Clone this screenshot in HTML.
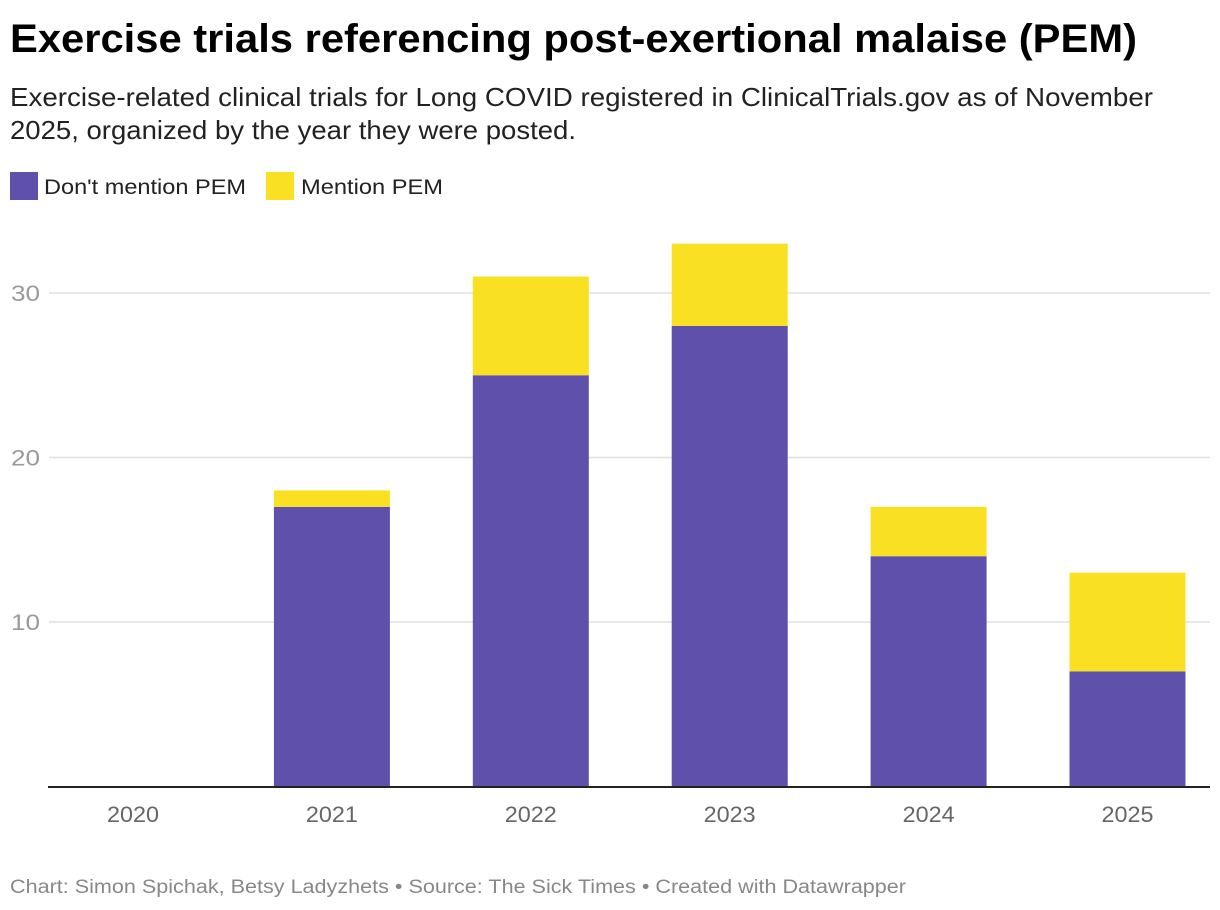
<!DOCTYPE html>
<html><head><meta charset="utf-8"><style>
body{margin:0;background:#fff;}
svg{display:block;font-family:"Liberation Sans",Arial,sans-serif;}
</style></head><body>
<svg id="chart" width="1220" height="910" viewBox="0 0 1220 910">
<text x="10" y="52" font-size="40" font-weight="bold" fill="#000" textLength="1127" lengthAdjust="spacingAndGlyphs">Exercise trials referencing post-exertional malaise (PEM)</text>
<text x="10" y="106" font-size="26" fill="#222" textLength="1143" lengthAdjust="spacingAndGlyphs">Exercise-related clinical trials for Long COVID registered in ClinicalTrials.gov as of November</text>
<text x="10" y="139" font-size="26" fill="#222" textLength="566" lengthAdjust="spacingAndGlyphs">2025, organized by the year they were posted.</text>
<g>
<rect x="10" y="172" width="28" height="28" fill="#5e50ab"/>
<text x="44" y="194" font-size="21" fill="#222" textLength="202" lengthAdjust="spacingAndGlyphs">Don't mention PEM</text>
<rect x="266" y="172" width="28" height="28" fill="#fae022"/>
<text x="301" y="194" font-size="21" fill="#222" textLength="142" lengthAdjust="spacingAndGlyphs">Mention PEM</text>
</g>
<g id="grid"></g>
<g id="bars"></g>
<line x1="48" y1="787" x2="1210" y2="787" stroke="#222" stroke-width="2"/>
<g id="xlabels"></g>
<text x="10" y="893" font-size="19" fill="#888" textLength="896" lengthAdjust="spacingAndGlyphs">Chart: Simon Spichak, Betsy Ladyzhets • Source: The Sick Times • Created with Datawrapper</text>
</svg>
<script>
const categories = ["2020","2021","2022","2023","2024","2025"];
const dontMention = [0,17,25,28,14,7];
const mention = [0,1,6,5,3,6];
const yTicks = [10,20,30];

const NS = "http://www.w3.org/2000/svg";
const y0 = 786.5, pxPerUnit = 16.45;
function yScale(v){ return y0 - v*pxPerUnit; }
function xCenter(i){ return 133 + i*198.9; }
const barW = 116;
function mk(tag, attrs, parent){
  const e = document.createElementNS(NS, tag);
  for (const k in attrs) e.setAttribute(k, attrs[k]);
  parent.appendChild(e); return e;
}
const grid = document.getElementById('grid');
yTicks.forEach(t => {
  const y = yScale(t);
  const l = mk('line', {x1:49, x2:1210, y1:y, y2:y, stroke:'#e0e0e0', 'stroke-width':1.5}, grid);
  
  
  const tx = mk('text', {x:11, y:y+8, 'font-size':22, fill:'#9a9a9a', textLength:29, lengthAdjust:'spacingAndGlyphs'}, grid);
  tx.textContent = t;
  
  
});
const bars = document.getElementById('bars');
const xl = document.getElementById('xlabels');
categories.forEach((c, i) => {
  const cx = xCenter(i);
  const a = dontMention[i], b = mention[i];
  if (a > 0) {
    const r = mk('rect', {x:cx-barW/2, y:yScale(a), width:barW, height:yScale(0)-yScale(a), fill:'#5e50ab'}, bars);
    
    
  }
  if (b > 0) {
    const r = mk('rect', {x:cx-barW/2, y:yScale(a+b), width:barW, height:yScale(a)-yScale(a+b), fill:'#fae022'}, bars);
    
    
  }
  const t = mk('text', {x:cx, y:822, 'font-size':22, fill:'#666', 'text-anchor':'middle', textLength:52, lengthAdjust:'spacingAndGlyphs'}, xl);
  t.textContent = c;
  
  
});
</script>
</body></html>
